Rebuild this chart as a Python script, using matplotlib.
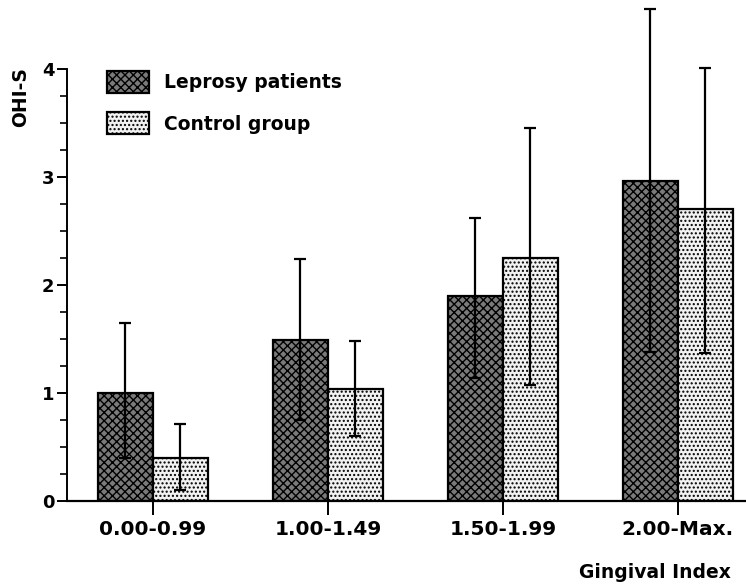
import numpy as np
import matplotlib
matplotlib.use("Agg")
import matplotlib.pyplot as plt

# -----------------------------
# Data
# -----------------------------
groups = ["0.00-0.99", "1.00-1.49", "1.50-1.99", "2.00-Max."]
lep_mean = [1.00, 1.49, 1.90, 2.96]
lep_low = [0.40, 0.75, 1.14, 1.38]
lep_high = [1.65, 2.24, 2.62, 4.56]
ctrl_mean = [0.40, 1.04, 2.25, 2.70]
ctrl_low = [0.10, 0.60, 1.07, 1.37]
ctrl_high = [0.71, 1.48, 3.45, 4.01]

plt.rcParams['font.family'] = ['DejaVu Sans']
plt.rcParams['font.weight'] = 'bold'
plt.rcParams['hatch.linewidth'] = 1.0

fig = plt.figure(figsize=(7.46, 5.88), dpi=100)
ax = fig.add_axes([67 / 746, 87 / 588, 679 / 746, 501 / 588])

x = np.arange(len(groups))
w = 0.315

lep_mean = np.array(lep_mean)
ctrl_mean = np.array(ctrl_mean)
lep_err = [lep_mean - np.array(lep_low), np.array(lep_high) - lep_mean]
ctrl_err = [ctrl_mean - np.array(ctrl_low), np.array(ctrl_high) - ctrl_mean]

ax.bar(x - w / 2, lep_mean, w, color='#7a7a7a', edgecolor='black',
       linewidth=1.6, hatch='xxxx', label='Leprosy patients', zorder=2)
ax.bar(x + w / 2, ctrl_mean, w, color='#f2f2f2', edgecolor='black',
       linewidth=1.6, hatch='....', label='Control group', zorder=2)

ax.errorbar(x - w / 2, lep_mean, yerr=lep_err, fmt='none', ecolor='black',
            elinewidth=1.6, capsize=4, capthick=1.6, zorder=3, clip_on=False)
ax.errorbar(x + w / 2, ctrl_mean, yerr=ctrl_err, fmt='none', ecolor='black',
            elinewidth=1.6, capsize=4, capthick=1.6, zorder=3, clip_on=False)

ax.set_xlim(-0.491, 3.389)
ax.set_ylim(0, 4.64)

# Axes styling
for spine in ["top", "right"]:
    ax.spines[spine].set_visible(False)
ax.spines['left'].set_bounds(0, 4)
ax.spines['left'].set_linewidth(1.4)
ax.spines['bottom'].set_linewidth(1.6)

ax.set_yticks([0, 1, 2, 3, 4])
ax.set_yticks(np.arange(0, 4.01, 0.25), minor=True)
ax.tick_params(axis='y', which='major', length=7, width=1.4, labelsize=13, pad=2)
ax.tick_params(axis='y', which='minor', length=5, width=1.2)
ax.set_xticks(x)
ax.set_xticklabels(groups)
ax.tick_params(axis='x', which='major', length=10, width=1.4, labelsize=14.5, pad=4)

ax.text(-0.069, 0.806, "OHI-S", transform=ax.transAxes, rotation=90,
        ha='center', va='center', fontsize=13.5, fontweight='bold', clip_on=False)
fig.text(0.98, 0.027, "Gingival Index", ha='right', va='center',
         fontsize=13.5, fontweight='bold')

ax.legend(loc='upper left', bbox_to_anchor=(0.059, 0.858), frameon=False,
          fontsize=13.5, handlelength=2.25, handleheight=1.45,
          handletextpad=0.8, labelspacing=1.0, borderaxespad=0, borderpad=0)

fig.savefig("out.png", dpi=100, facecolor='white')
